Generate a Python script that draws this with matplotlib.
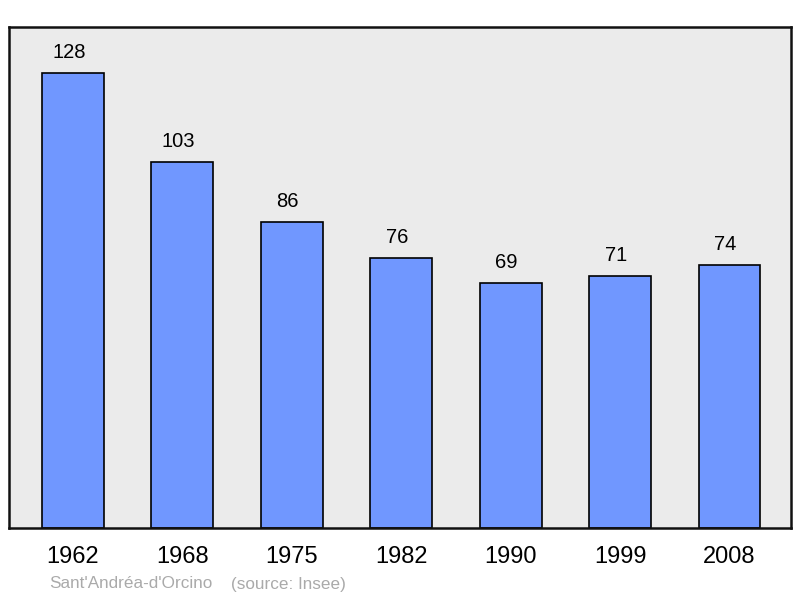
import matplotlib
matplotlib.use('Agg')
import matplotlib.pyplot as plt

years = ['1962', '1968', '1975', '1982', '1990', '1999', '2008']
population = [128, 103, 86, 76, 69, 71, 74]
place = "Sant'Andréa-d'Orcino"
source = '(source: Insee)'

plt.rcParams['font.family'] = ['Liberation Sans', 'DejaVu Sans']

fig = plt.figure(figsize=(8, 5.98), dpi=100)
ax = fig.add_axes([9 / 800, 1 - 528 / 598, 782 / 800, 501 / 598])
ax.set_facecolor('#ebebeb')

x = list(range(len(years)))
bars = ax.bar(x, population, width=0.566, color='#7097ff',
              edgecolor='black', linewidth=1.2, zorder=2)
for b, v in zip(bars, population):
    ax.annotate(str(v), (b.get_x() + b.get_width() / 2, v),
                xytext=(-3, 8), textcoords='offset points',
                ha='center', va='bottom', fontsize=14.5)

ax.set_xlim(-0.585, 6.562)
ax.set_ylim(0, 141)
ax.set_xticks(x)
ax.set_xticklabels(years, fontsize=17)
ax.tick_params(axis='x', length=0, pad=13)
ax.set_yticks([])
for s in ax.spines.values():
    s.set_linewidth(1.8)
    s.set_color('#111111')

fig.text(49 / 800, 1 - 584 / 598, place, color='#aaaaaa', fontsize=12.3, va='center')
fig.text(231 / 800, 1 - 584 / 598, source, color='#aaaaaa', fontsize=12.3, va='center')

fig.savefig('out.png', dpi=100)
